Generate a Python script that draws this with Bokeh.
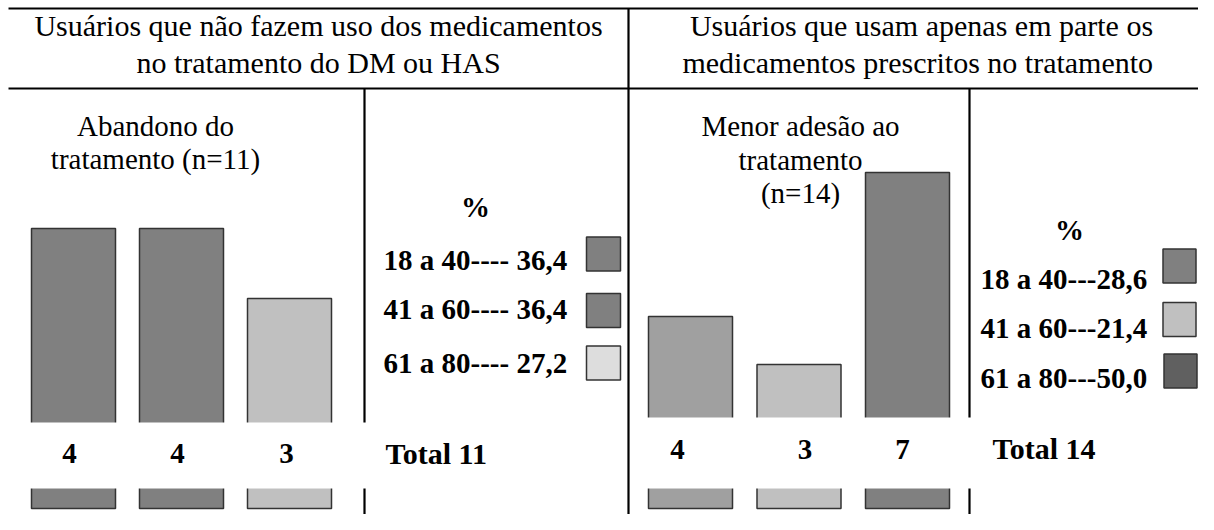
from bokeh.plotting import figure
from bokeh.models import Range1d, ColumnDataSource
from bokeh.core.properties import value
from bokeh.embed import file_html
from bokeh.resources import INLINE

# ---------------- data ----------------
age_groups = ["18 a 40", "41 a 60", "61 a 80"]
left_counts = [4, 4, 3]
left_pct = [36.4, 36.4, 27.2]
right_counts = [4, 3, 7]
right_pct = [28.6, 21.4, 50.0]

left_header = ["Usuários que não fazem uso dos medicamentos",
               "no tratamento do DM ou HAS"]
right_header = ["Usuários que usam apenas em parte os",
                "medicamentos  prescritos no tratamento"]
left_title = ["Abandono do", "tratamento (n=%d)" % sum(left_counts)]
right_title = ["Menor adesão ao", "tratamento", "(n=%d)" % sum(right_counts)]

# ---------------- styles ----------------
left_bar_colors = ["#808080", "#808080", "#c0c0c0"]
right_bar_colors = ["#a0a0a0", "#c0c0c0", "#808080"]
left_key_colors = ["#808080", "#808080", "#dddddd"]
right_key_colors = ["#808080", "#c0c0c0", "#606060"]
left_label_shift = [-4, -4, -3]
right_label_shift = [-13, 6, -5]
FONT = value("Liberation Serif")
FS = "29px"
HFS = "30px"


def fmt(v):
    return ("%.1f" % v).replace(".", ",")


W, H = 1198, 514
p = figure(width=W, height=H, x_range=Range1d(0, W), y_range=Range1d(H, 0),
           output_backend="svg", toolbar_location=None, min_border=0,
           x_axis_location=None, y_axis_location=None)
p.grid.visible = False
p.outline_line_color = None
p.background_fill_color = "white"
p.border_fill_color = "white"

# value scales for the bars (baseline at 508 px from top)
base = 508
p.extra_y_ranges = {
    "lv": Range1d(start=-(H - base) / 70.0, end=base / 70.0),
    "rv": Range1d(start=-(H - base) / 48.0, end=base / 48.0),
}
# category index scales
lc0, ls = 73.0, 108.0
rc0, rs = 690.0, 108.5
p.extra_x_ranges = {
    "lx": Range1d(start=-lc0 / ls, end=(W - lc0) / ls),
    "rx": Range1d(start=-rc0 / rs, end=(W - rc0) / rs),
}
idx = list(range(len(age_groups)))

# bars
p.vbar(x=idx, width=84 / ls, top=left_counts, bottom=0, x_range_name="lx",
       y_range_name="lv", fill_color=left_bar_colors, line_color="#333333",
       line_width=1.5)
p.vbar(x=idx, width=84 / rs, top=right_counts, bottom=0, x_range_name="rx",
       y_range_name="rv", fill_color=right_bar_colors, line_color="#333333",
       line_width=1.5)

# white band behind totals row
p.quad(left=[0, 636], right=[621, W], top=[422, 417], bottom=[488, 488],
       fill_color="white", line_color=None)

# frame lines
p.segment(x0=[8, 8, 628, 364, 969, 364, 969],
          y0=[8, 88, 8, 88, 88, 488, 488],
          x1=[W, W, 628, 364, 969, 364, 969],
          y1=[8, 88, H, 422, 417, H, H],
          line_color="black", line_width=2.2)

common = dict(text_font=FONT, text_baseline="middle")

# headers
p.text(x=[318, 318], y=[25, 62], text=left_header, text_font_size=HFS,
       text_align="center", **common)
p.text(x=[921, 921], y=[25, 62], text=right_header, text_font_size=HFS,
       text_align="center", **common)

# panel titles
p.text(x=[155, 155], y=[125, 158], text=left_title, text_font_size=FS,
       text_align="center", **common)
p.text(x=[800, 800, 800], y=[125, 159, 192], text=right_title,
       text_font_size=FS, text_align="center", **common)

# counts under bars
lsrc = ColumnDataSource(dict(x=idx, y=[453] * 3,
                             t=[str(c) for c in left_counts],
                             dx=left_label_shift))
rsrc = ColumnDataSource(dict(x=idx, y=[449] * 3,
                             t=[str(c) for c in right_counts],
                             dx=right_label_shift))
p.text(x="x", y="y", text="t", x_offset="dx", source=lsrc, x_range_name="lx",
       text_font_size=FS, text_font_style="bold", text_align="center", **common)
p.text(x="x", y="y", text="t", x_offset="dx", source=rsrc, x_range_name="rx",
       text_font_size=FS, text_font_style="bold", text_align="center", **common)

# legends
p.text(x=[475, 1069], y=[206, 229], text=["%", "%"], text_font_size=FS,
       text_font_style="bold", text_align="center", **common)
p.text(x=[383] * 3, y=[259, 308, 362],
       text=["%s---- %s" % (g, fmt(v)) for g, v in zip(age_groups, left_pct)],
       text_font_size=FS, text_font_style="bold", text_align="left", **common)
p.text(x=[980] * 3, y=[278, 327, 377],
       text=["%s---%s" % (g, fmt(v)) for g, v in zip(age_groups, right_pct)],
       text_font_size=FS, text_font_style="bold", text_align="left", **common)
p.text(x=[385, 992], y=[453, 448],
       text=["Total %d" % sum(left_counts), "Total %d" % sum(right_counts)],
       text_font_size="30px", text_font_style="bold", text_align="left",
       **common)

# legend keys
p.rect(x=[603, 603, 603], y=[253.5, 310, 362.5], width=34, height=34,
       fill_color=left_key_colors, line_color="#333333", line_width=1.5)
p.rect(x=[1179, 1179, 1180], y=[265.5, 319, 370.5], width=33, height=34,
       fill_color=right_key_colors, line_color="#333333", line_width=1.5)

open("out.html", "w").write(file_html(p, INLINE))
